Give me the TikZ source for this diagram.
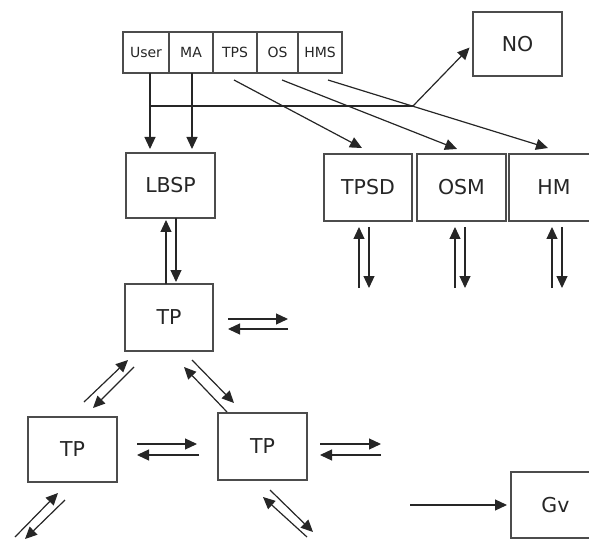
\documentclass[tikz,border=0pt]{standalone}
\usepackage{fontspec}
\setmainfont{DejaVu Sans}
\usetikzlibrary{arrows.meta}
\begin{document}
\begin{tikzpicture}[x=1pt,y=-1pt,
 box/.style={draw=black!70,line width=1.3pt,inner sep=0pt,outer sep=0pt,font=\fontsize{20.5}{24}\selectfont,text=black!85,minimum width=89pt,minimum height=66pt},
 tbox/.style={draw=black!70,line width=1.2pt,inner sep=0pt,outer sep=0pt,font=\fontsize{14}{16}\selectfont,text=black!85,minimum height=41pt},
 arr/.style={draw=black!85,line width=1.2pt,-{Triangle[length=12pt,width=11pt]}},
 ln/.style={draw=black!85,line width=1.2pt}]
\useasboundingbox (0,0) rectangle (589,540);
\clip (0,0) rectangle (589,540);
% top strip
\node[tbox,minimum width=46pt] (User) at (146,52.5) {User};
\node[tbox,minimum width=44pt] (MA) at (191,52.5) {MA};
\node[tbox,minimum width=44pt] (TPS) at (235,52.5) {TPS};
\node[tbox,minimum width=41pt] (OS) at (277.5,52.5) {OS};
\node[tbox,minimum width=44pt] (HMS) at (320,52.5) {HMS};
% boxes
\node[box,minimum height=64pt] (NO) at (517.5,44) {NO};
\node[box,minimum height=65pt] (LBSP) at (170.5,185.5) {LBSP};
\node[box,minimum width=88pt,minimum height=67pt] (TPSD) at (368,187.5) {TPSD};
\node[box,minimum height=67pt] (OSM) at (461.5,187.5) {OSM};
\node[box,minimum width=90pt,minimum height=67pt] (HM) at (554,187.5) {HM};
\node[box,minimum width=88pt,minimum height=67pt] (TP1) at (169,317.5) {TP};
\node[box,minimum height=65pt] (TP2) at (72.5,449.5) {TP};
\node[box,minimum height=67pt] (TP3) at (262.5,446.5) {TP};
\node[box,minimum width=89pt,minimum height=66pt] (Gv) at (555.5,505) {Gv};
% junctions and free ends
\coordinate (j1) at (150,106);
\coordinate (j2) at (192,106);
\coordinate (J) at (413,106);
% user / MA to LBSP
\draw[arr,shorten >=4pt] (User.south -| j1) -- (j1 |- LBSP.north);
\draw[arr,shorten >=4pt] (MA.south -| j2) -- (j2 |- LBSP.north);
\draw[ln] (j1) -- (J);
\draw[arr,shorten >=5pt] (J) -- (NO.west);
% diagonals from TPS, OS, HMS
\coordinate (a1) at (234,80); \coordinate (b1) at (362,148);
\coordinate (a2) at (282,80); \coordinate (b2) at (457,149);
\coordinate (a3) at (328,80); \coordinate (b3) at (548,148);
\draw[arr] (a1) -- (b1);
\draw[arr] (a2) -- (b2);
\draw[arr] (a3) -- (b3);
% LBSP <-> TP1
\draw[arr,shorten >=2pt] (TP1.north -| 166,0) -- (LBSP.south -| 166,0);
\draw[arr,shorten >=2pt] (LBSP.south -| 176,0) -- (TP1.north -| 176,0);
% TPSD, OSM, HM verticals
\foreach \n/\x in {TPSD/359,OSM/455,HM/552}{
  \coordinate (e\n) at (\x,288);
  \draw[arr,shorten >=6pt] (e\n) -- (\n.south -| e\n);
  \coordinate (f\n) at (\x+10,288);
  \draw[arr] ([yshift=-6pt]\n.south -| f\n) -- (f\n);
}
% TP1 right pair
\coordinate (r1a) at (228,319); \coordinate (r1b) at (288,319);
\coordinate (r2a) at (288,329); \coordinate (r2b) at (228,329);
\draw[arr] (r1a) -- (r1b);
\draw[arr] (r2a) -- (r2b);
% TP1 - TP2 diagonals
\coordinate (d1a) at (84,402); \coordinate (d1b) at (128,360);
\coordinate (d2a) at (134,367); \coordinate (d2b) at (93,408);
\draw[arr] (d1a) -- (d1b);
\draw[arr] (d2a) -- (d2b);
% TP1 - TP3 diagonals
\coordinate (d3a) at (227,412); \coordinate (d3b) at (184,367);
\coordinate (d4a) at (192,360); \coordinate (d4b) at (234,403);
\draw[arr] (d3a) -- (d3b);
\draw[arr] (d4a) -- (d4b);
% TP2 - TP3 pair
\coordinate (h1a) at (137,444); \coordinate (h1b) at (197,444);
\coordinate (h2a) at (199,455); \coordinate (h2b) at (137,455);
\draw[arr] (h1a) -- (h1b);
\draw[arr] (h2a) -- (h2b);
% TP3 right pair
\coordinate (h3a) at (320,444); \coordinate (h3b) at (381,444);
\coordinate (h4a) at (381,455); \coordinate (h4b) at (320,455);
\draw[arr] (h3a) -- (h3b);
\draw[arr] (h4a) -- (h4b);
% TP2 bottom-left
\coordinate (g1a) at (15,537); \coordinate (g1b) at (58,493);
\coordinate (g2a) at (65,500); \coordinate (g2b) at (25,539);
\draw[arr] (g1a) -- (g1b);
\draw[arr] (g2a) -- (g2b);
% TP3 bottom-right
\coordinate (k1a) at (270,490); \coordinate (k1b) at (313,532);
\coordinate (k2a) at (307,537); \coordinate (k2b) at (263,497);
\draw[arr] (k1a) -- (k1b);
\draw[arr] (k2a) -- (k2b);
% to Gv
\coordinate (gvin) at (410,505);
\draw[arr,shorten >=4pt] (gvin) -- (Gv.west);
\end{tikzpicture}
\end{document}
